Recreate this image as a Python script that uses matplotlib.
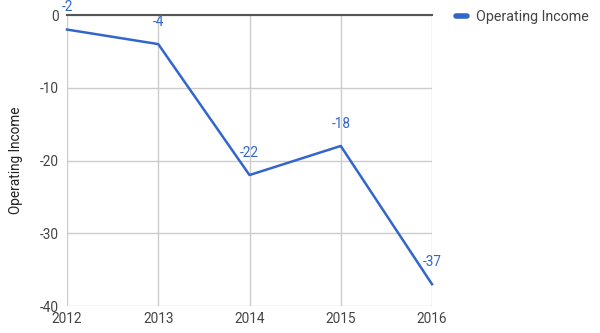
import matplotlib
matplotlib.use("Agg")
import matplotlib.pyplot as plt

years = [2012, 2013, 2014, 2015, 2016]
income = [-2, -4, -22, -18, -37]
yticks = [0, -10, -20, -30, -40]
series_name = "Operating Income"
axis_title = "Operating Income"

blue = "#3366cc"
grid = "#cccccc"
txt = "#444444"

plt.rcParams['font.family'] = ['Roboto', 'DejaVu Sans']

fig = plt.figure(figsize=(6, 3.33), dpi=100)
ax = fig.add_axes([67/600, 1 - 306/333, (432-67)/600, (306-15)/333])

ax.set_xlim(years[0], years[-1])
ax.set_ylim(-40, 0)
ax.set_xticks(years)
ax.set_yticks(yticks)
ax.set_xticklabels([str(y) for y in years])
ax.set_yticklabels([str(v) for v in yticks])
ax.grid(True, color=grid, linewidth=1)
ax.set_axisbelow(True)
for s in ax.spines.values():
    s.set_visible(False)
ax.axhline(0, color="#555555", linewidth=1.5, zorder=2, clip_on=False)
ax.tick_params(length=0, colors=txt, labelsize=9.8)
ax.tick_params(axis='y', pad=6)
ax.tick_params(axis='x', pad=4)

ax.plot(years, income, color=blue, linewidth=1.8, label=series_name, zorder=3, clip_on=False)
for x, y in zip(years, income):
    ax.annotate(str(y), (x, y), xytext=(0, 16), textcoords="offset points",
                ha="center", va="center", color=blue, fontsize=9.8)

ax.set_ylabel(axis_title, color="#222222", fontsize=9.8, labelpad=12)

leg = fig.legend(loc="upper left", bbox_to_anchor=(450/600, 1 - 4/333), frameon=False,
                 fontsize=10.3, handlelength=0.8, handletextpad=0.6, borderaxespad=0)
for t in leg.get_texts():
    t.set_color("#444444")
for l in leg.get_lines():
    l.set_linewidth(4)
    l.set_solid_capstyle("round")

fig.savefig("out.png", dpi=100)
